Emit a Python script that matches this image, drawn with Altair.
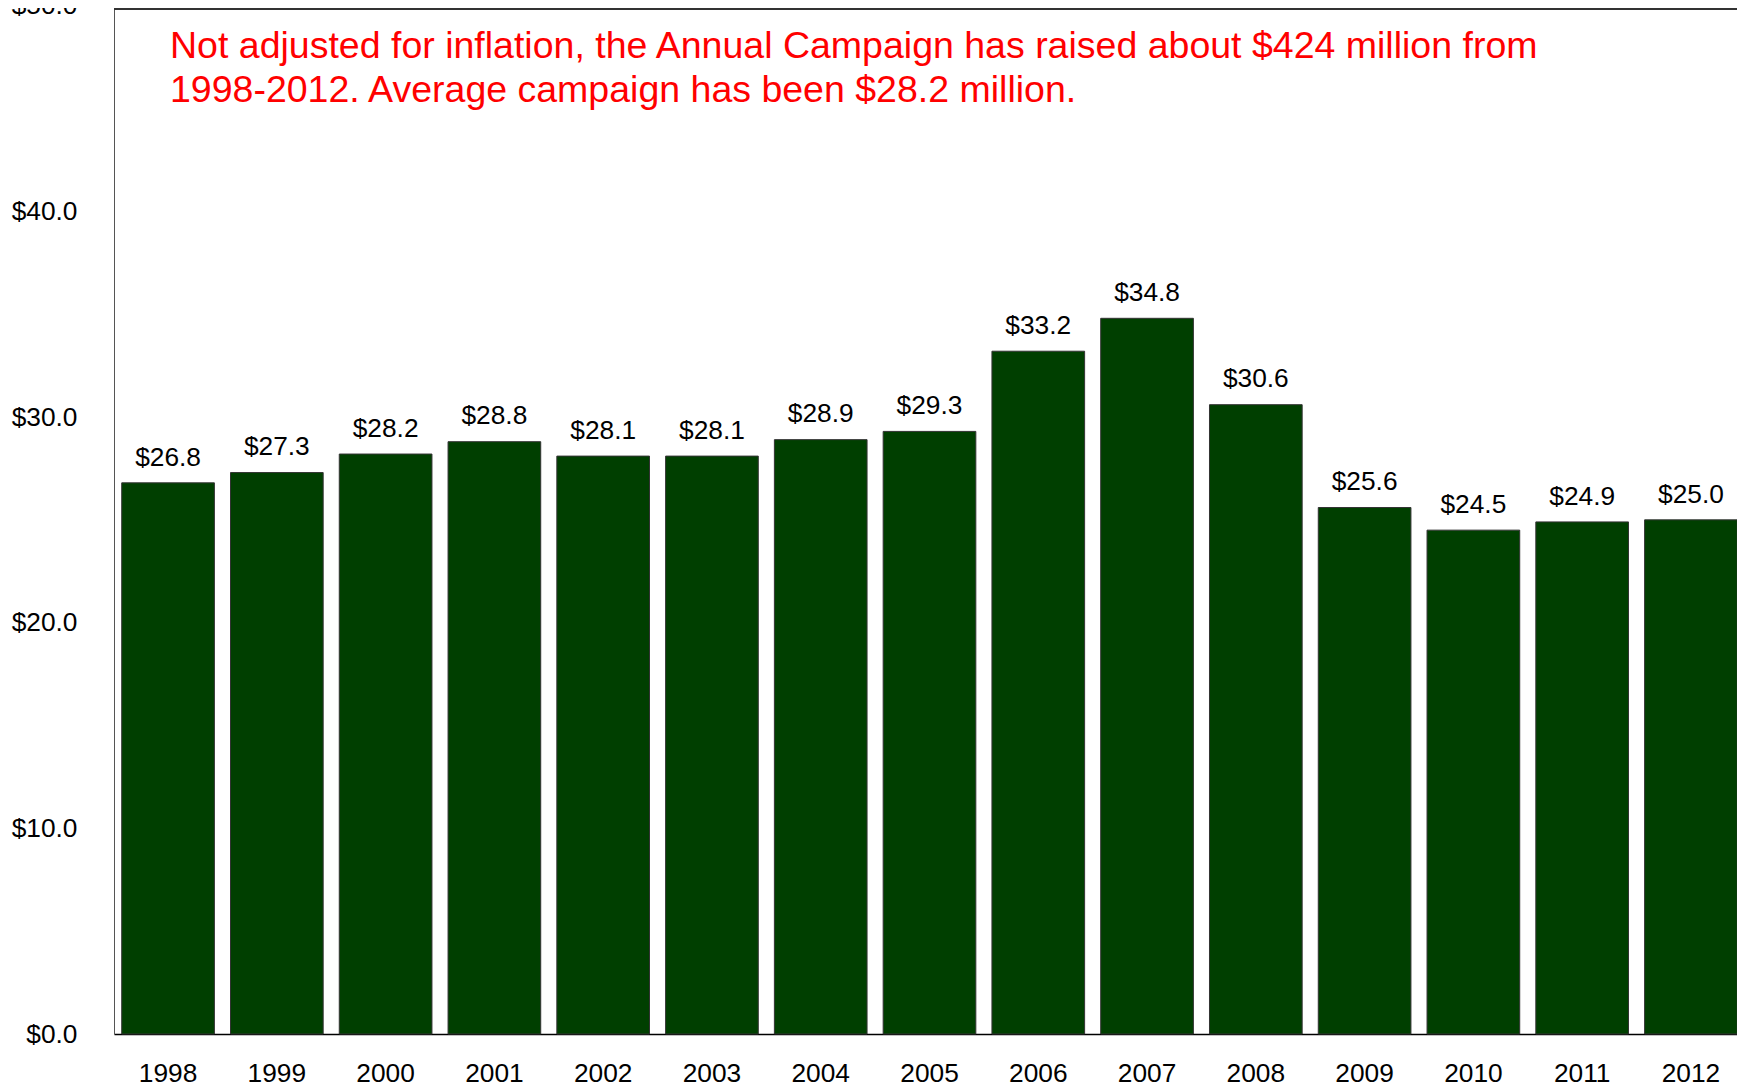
import altair as alt
import pandas as pd

years = ["1998", "1999", "2000", "2001", "2002", "2003", "2004", "2005",
         "2006", "2007", "2008", "2009", "2010", "2011", "2012"]
values = [26.8, 27.3, 28.2, 28.8, 28.1, 28.1, 28.9, 29.3,
          33.2, 34.8, 30.6, 25.6, 24.5, 24.9, 25.0]
y_ticks = [0, 10, 20, 30, 40, 50]
note_lines = [
    "Not adjusted for inflation, the Annual Campaign has raised about $424 million from",
    "1998-2012. Average campaign has been $28.2 million.",
]

FONT = "Liberation Sans"
FS = 26.3

df = pd.DataFrame({"year": years, "value": values})
one = pd.DataFrame({"k": [0]})

x_enc = alt.X(
    "year:N", sort=None,
    scale=alt.Scale(paddingInner=0.148, paddingOuter=0.071, range=[0, 1631]),
    axis=alt.Axis(title=None, labelAngle=0, ticks=False, grid=False,
                  domainColor="#000000", domainWidth=1.5,
                  labelFont=FONT, labelFontSize=FS, labelColor="#000000",
                  labelPadding=26),
)
y_enc = alt.Y(
    "value:Q",
    scale=alt.Scale(domain=[0, 50], range=[1026, -2.3], nice=False, zero=True),
    axis=alt.Axis(title=None, values=y_ticks, format="$.1f", ticks=False,
                  grid=False, domainColor="#555555", domainWidth=1,
                  labelFont=FONT, labelFontSize=FS, labelColor="#000000",
                  labelPadding=37),
)

base = alt.Chart(df)

bars = base.mark_bar(color="#003f00", stroke="#333333", strokeWidth=1).encode(
    x=x_enc, y=y_enc
)

labels = base.mark_text(
    baseline="alphabetic", dy=-17.3, font=FONT, fontSize=FS, color="#000000"
).encode(
    x=alt.X("year:N", sort=None),
    y=alt.Y("value:Q"),
    text=alt.Text("value:Q", format="$.1f"),
)

top_rule = alt.Chart(one).mark_rule(color="#333333", strokeWidth=2).encode(
    x=alt.value(0), x2=alt.value(1700), y=alt.value(1)
)

note = alt.Chart(one).mark_text(
    text=note_lines, align="left", baseline="alphabetic", font=FONT,
    fontSize=37.5, lineHeight=44.6, color="#ff0000"
).encode(
    x=alt.value(56), y=alt.value(49.7)
)

chart = alt.layer(bars, labels, top_rule, note).properties(
    width=1623, height=1026,
    padding={"left": 106, "top": 0, "right": 0, "bottom": 53},
    autosize="none",
).configure_view(stroke=None)

chart.save("out.html", embed_options={"renderer": "svg", "actions": False})
